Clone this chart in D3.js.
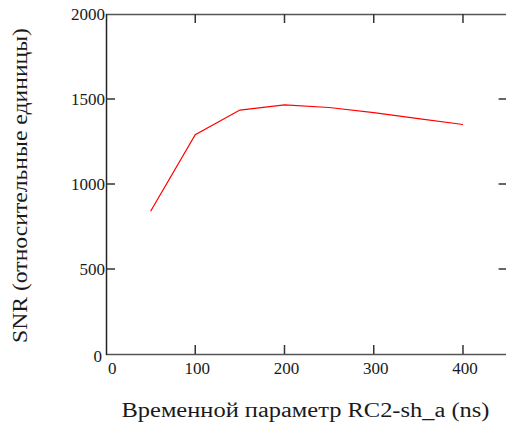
<!DOCTYPE html>
<html><head><meta charset="utf-8">
<script src="https://cdn.jsdelivr.net/npm/d3@7"></script>
<style>
html,body{margin:0;padding:0;background:#fff;overflow:hidden;}
svg text{font-family:'Liberation Serif',serif;fill:#1a1a1a;}
</style></head>
<body><svg id="c" width="506" height="425"></svg>
<script>
const xValues = [50, 100, 150, 200, 250, 300, 350, 400];
const snrValues = [840, 1290, 1435, 1465, 1450, 1420, 1385, 1350];
const xTicks = [0, 100, 200, 300, 400];
const yTicks = [0, 500, 1000, 1500, 2000];
const xTitle = "Временной параметр RC2-sh_a (ns)";
const yTitle = "SNR (относительные единицы)";

const svg = d3.select("#c");
const L = 106, R = 507.6, T = 14, B = 354;
const x = d3.scaleLinear().domain([0, 450]).range([L, R]);
const y = d3.scaleLinear().domain([0, 2000]).range([B, T]);
const FF = "'Liberation Serif', serif";

// frame
svg.append("line").attr("x1", L).attr("x2", 506).attr("y1", T + 0.5).attr("y2", T + 0.5)
  .attr("stroke", "#555").attr("stroke-width", 1.5);
svg.append("line").attr("x1", L).attr("x2", 506).attr("y1", B + 0.5).attr("y2", B + 0.5)
  .attr("stroke", "#555").attr("stroke-width", 1.5);
svg.append("line").attr("x1", L + 0.5).attr("x2", L + 0.5).attr("y1", T).attr("y2", B + 1)
  .attr("stroke", "#222").attr("stroke-width", 1.5);

// ticks inward
const tk = 9;
xTicks.filter(d => d > 0).forEach(d => {
  svg.append("line").attr("x1", x(d)).attr("x2", x(d)).attr("y1", B).attr("y2", B - tk).attr("stroke", "#333").attr("stroke-width", 1.5);
  svg.append("line").attr("x1", x(d)).attr("x2", x(d)).attr("y1", T).attr("y2", T + tk).attr("stroke", "#333").attr("stroke-width", 1.5);
});
yTicks.filter(d => d > 0 && d < 2000).forEach(d => {
  svg.append("line").attr("x1", L).attr("x2", L + tk).attr("y1", y(d)).attr("y2", y(d)).attr("stroke", "#333").attr("stroke-width", 1.5);
  svg.append("line").attr("x1", R).attr("x2", R - tk).attr("y1", y(d)).attr("y2", y(d)).attr("stroke", "#333").attr("stroke-width", 1.5);
});

// tick labels
const fs = 17;
xTicks.forEach(d => {
  svg.append("text").attr("font-family", FF).attr("x", x(d) + 2).attr("y", B + 20)
    .attr("text-anchor", d === 0 ? "start" : "middle").attr("font-size", fs).text(d);
});
yTicks.forEach(d => {
  svg.append("text").attr("font-family", FF).attr("x", d === 0 ? L - 4 : L - 1).attr("y", d === 0 ? y(d) + 8 : y(d) + 6)
    .attr("text-anchor", "end").attr("font-size", fs).text(d);
});

// line
const line = d3.line().x((d, i) => x(xValues[i])).y(d => y(d));
svg.append("path").datum(snrValues).attr("d", line)
  .attr("fill", "none").attr("stroke", "#ff0000").attr("stroke-width", 1.2);

// titles
svg.append("text").attr("font-family", FF).attr("x", 121.5).attr("y", 417).attr("text-anchor", "start")
  .attr("font-size", 20.5).attr("textLength", 368).attr("lengthAdjust", "spacingAndGlyphs").text(xTitle);
svg.append("text").attr("font-family", FF).attr("transform", "translate(27,343) rotate(-90)").attr("text-anchor", "start")
  .attr("font-size", 20.5).attr("textLength", 315).attr("lengthAdjust", "spacingAndGlyphs").text(yTitle);
</script></body></html>
